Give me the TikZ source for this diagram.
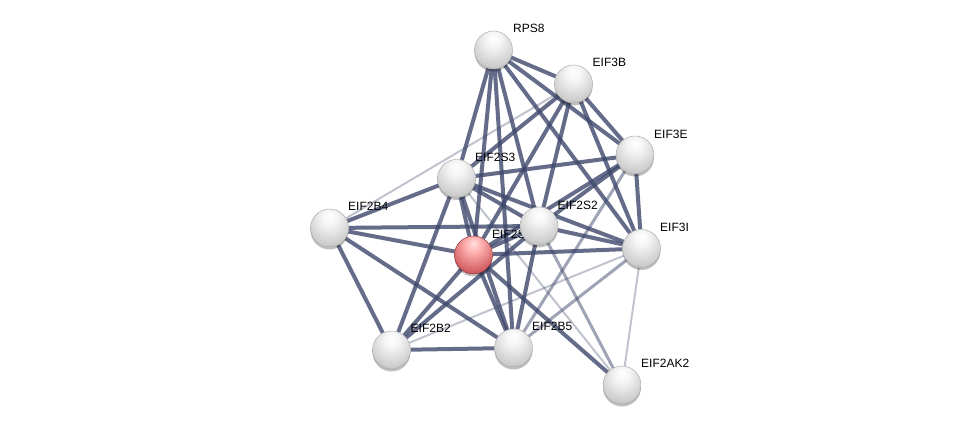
\documentclass[tikz,border=0pt]{standalone}
\usepackage{fontspec}
\setmainfont{Liberation Sans}
\usetikzlibrary{shadows}
\pgfdeclarelayer{bglayer}
\pgfdeclarelayer{edgelayer}
\pgfdeclarelayer{labellayer}
\pgfsetlayers{bglayer,edgelayer,labellayer,main}
\definecolor{edgec}{RGB}{62,72,108}
\definecolor{ballrim}{RGB}{140,140,140}
\definecolor{ballmid}{RGB}{205,205,205}
\definecolor{redrim}{RGB}{165,48,52}
\definecolor{redmid}{RGB}{212,96,100}
\pgfdeclareradialshading{greyball}{\pgfpoint{0bp}{16bp}}{color(0bp)=(white); color(10bp)=(white!92!gray); color(30bp)=(ballmid); color(52bp)=(ballrim); color(70bp)=(ballrim)}
\pgfdeclareradialshading{redball}{\pgfpoint{0bp}{16bp}}{color(0bp)=(red!12!white); color(10bp)=(red!30!white); color(30bp)=(redmid); color(52bp)=(redrim); color(70bp)=(redrim)}
\tikzset{
  prot/.style={circle, minimum size=38pt, inner sep=0pt, shading=greyball, draw=gray!70, line width=0.4pt,
    drop shadow={shadow xshift=0pt, shadow yshift=-2.5pt, opacity=0.25, fill=black}},
  protred/.style={prot, shading=redball, draw=redrim!80!black},
  lab/.style={anchor=base west, inner sep=0pt, font=\fontsize{12}{14}\selectfont, text=black},
  e/.style={draw=edgec, line width=4pt, draw opacity=0.8},
  em/.style={draw=edgec, line width=3pt, draw opacity=0.5},
  el/.style={draw=edgec, line width=2pt, draw opacity=0.32},
}
\begin{document}
\begin{tikzpicture}[x=1pt,y=-1pt]
\begin{pgfonlayer}{bglayer}
\fill[white] (0,0) rectangle (975,430);
\end{pgfonlayer}
\useasboundingbox (0,0) rectangle (975,430);
% nodes
\node[prot] (RPS8) at (493.5,50) {};
\node[prot] (EIF3B) at (573.5,84) {};
\node[prot] (EIF3E) at (635,155) {};
\node[prot] (EIF2S3) at (456.5,178.5) {};
\node[prot] (EIF2B4) at (329.5,228) {};
\node[prot] (EIF2S2) at (539,226) {};
\node[protred] (EIF2S1) at (473.5,255) {};
\node[prot] (EIF3I) at (641.5,248.5) {};
\node[prot] (EIF2B2) at (391.5,350) {};
\node[prot] (EIF2B5) at (513.5,348) {};
\node[prot] (EIF2AK2) at (622,385) {};
% labels
\begin{pgfonlayer}{labellayer}
\node[lab] (lRPS8) at (513,33) {RPS8};
\node[lab] (lEIF3B) at (592.5,67) {EIF3B};
\node[lab] (lEIF3E) at (654,139) {EIF3E};
\node[lab] (lEIF2S3) at (475,162) {EIF2S3};
\node[lab] (lEIF2B4) at (348,211) {EIF2B4};
\node[lab] (lEIF2S2) at (557.5,209.5) {EIF2S2};
\node[lab] (lEIF2S1) at (492,238.5) {EIF2S1};
\node[lab] (lEIF3I) at (660,231.5) {EIF3I};
\node[lab] (lEIF2B2) at (410.5,333) {EIF2B2};
\node[lab] (lEIF2B5) at (532,331) {EIF2B5};
\node[lab] (lEIF2AK2) at (641,368) {EIF2AK2};
\end{pgfonlayer}
% edges
\begin{pgfonlayer}{edgelayer}
\draw[e] (RPS8) -- (EIF3B);
\draw[e] (RPS8) -- (EIF3E);
\draw[e] (RPS8) -- (EIF3I);
\draw[e] (RPS8) -- (EIF2S2);
\draw[e] (RPS8) -- (EIF2S1);
\draw[e] (RPS8) -- (EIF2S3);
\draw[e] (RPS8) -- (EIF2B5);
\draw[e] (EIF3B) -- (EIF3E);
\draw[e] (EIF3B) -- (EIF3I);
\draw[e] (EIF3B) -- (EIF2S2);
\draw[e] (EIF3B) -- (EIF2S1);
\draw[e] (EIF3B) -- (EIF2S3);
\draw[e] (EIF3E) -- (EIF3I);
\draw[e] (EIF3E) -- (EIF2S3);
\draw[e] (EIF3E) -- (EIF2S2);
\draw[e] (EIF3E) -- (EIF2S1);
\draw[e] (EIF3I) -- (EIF2S3);
\draw[e] (EIF3I) -- (EIF2S2);
\draw[e] (EIF3I) -- (EIF2S1);
\draw[e] (EIF2S3) -- (EIF2S2);
\draw[e] (EIF2S3) -- (EIF2S1);
\draw[e] (EIF2S3) -- (EIF2B4);
\draw[e] (EIF2S3) -- (EIF2B2);
\draw[e] (EIF2S3) -- (EIF2B5);
\draw[e] (EIF2S2) -- (EIF2S1);
\draw[e] (EIF2S2) -- (EIF2B4);
\draw[e] (EIF2S2) -- (EIF2B2);
\draw[e] (EIF2S2) -- (EIF2B5);
\draw[e] (EIF2S1) -- (EIF2B4);
\draw[e] (EIF2S1) -- (EIF2B2);
\draw[e] (EIF2S1) -- (EIF2B5);
\draw[e] (EIF2S1) -- (EIF2AK2);
\draw[e] (EIF2B4) -- (EIF2B2);
\draw[e] (EIF2B4) -- (EIF2B5);
\draw[e] (EIF2B2) -- (EIF2B5);
\draw[em] (EIF2S2) -- (EIF2AK2);
\draw[em] (EIF3I) -- (EIF2B5);
\draw[em] (EIF3E) -- (EIF2B5);
\draw[el] (EIF3B) -- (EIF2B4);
\draw[el] (EIF3I) -- (EIF2B2);
\draw[el] (EIF3I) -- (EIF2AK2);
\draw[el] (EIF2S3) -- (EIF2AK2);
\end{pgfonlayer}
\end{tikzpicture}
\end{document}
